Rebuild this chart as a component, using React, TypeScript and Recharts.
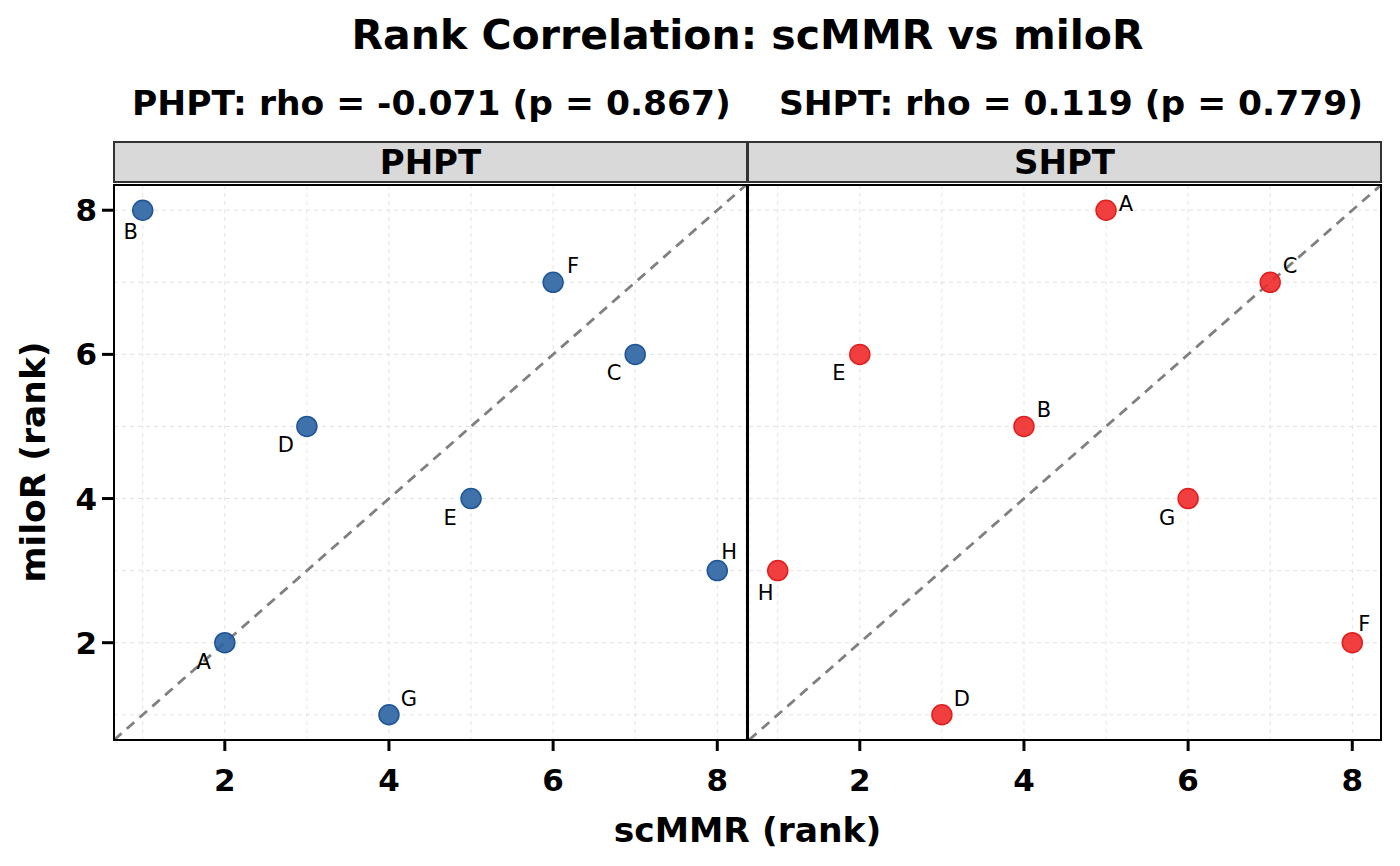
import { ScatterChart, Scatter, XAxis, YAxis, CartesianGrid, ReferenceLine } from 'recharts';

const pointLabels = ['A', 'B', 'C', 'D', 'E', 'F', 'G', 'H'];
const phptScMMR = [2, 1, 7, 3, 5, 6, 4, 8];
const phptMiloR = [2, 8, 6, 5, 4, 7, 1, 3];
const shptScMMR = [5, 4, 7, 3, 2, 8, 6, 1];
const shptMiloR = [8, 5, 7, 1, 6, 2, 4, 3];
// which side of the dot the repelled label sits on
const phptLabelSide = ['dl', 'd', 'dl', 'dl', 'dl', 'ur', 'ur', 'u'];
const shptLabelSide = ['r', 'ur', 'ur', 'ur', 'dl', 'u', 'dl', 'd'];

const gridTicks = [1, 2, 3, 4, 5, 6, 7, 8];
const majorTicks = [2, 4, 6, 8];
const axisDomain = [0.65, 8.35];

const FONT = '"DejaVu Sans", Verdana, sans-serif';

const sideOffset: Record<string, [number, number]> = {
  ur: [20, -16],
  dl: [-21, 19],
  d: [-12, 22],
  u: [12, -19],
  r: [20, -6],
};

function build(xs: number[], ys: number[], sides: string[]) {
  return pointLabels.map((label, i) => ({ label, x: xs[i], y: ys[i], side: sides[i] }));
}

const phptData = build(phptScMMR, phptMiloR, phptLabelSide);
const shptData = build(shptScMMR, shptMiloR, shptLabelSide);

function makeDot(fill: string, stroke: string) {
  return (props: any) => {
    const { cx, cy, payload } = props;
    const [dx, dy] = sideOffset[payload.side] || [20, -17];
    return (
      <g>
        <circle cx={cx} cy={cy} r={10} fill={fill} fillOpacity={0.9} stroke={stroke} strokeWidth={1.5} />
        <text x={cx + dx} y={cy + dy} textAnchor="middle" dominantBaseline="central"
          fontSize={21} fontFamily={FONT} fill="#000">{payload.label}</text>
      </g>
    );
  };
}

const XTick = (props: any) => {
  const { x, y, payload } = props;
  if (!majorTicks.includes(payload.value)) return null;
  return (
    <g>
      <line x1={x} x2={x} y1={y} y2={y + 11} stroke="#000" strokeWidth={3} />
      <text x={x} y={y + 40} textAnchor="middle" dominantBaseline="central"
        fontSize={31} fontWeight="bold" fontFamily={FONT} fill="#000">{payload.value}</text>
    </g>
  );
};

const YTick = (props: any) => {
  const { x, y, payload } = props;
  if (!majorTicks.includes(payload.value)) return null;
  return (
    <g>
      <line x1={x - 12} x2={x} y1={y} y2={y} stroke="#000" strokeWidth={3} />
      <text x={x - 17} y={y} textAnchor="end" dominantBaseline="central"
        fontSize={31} fontWeight="bold" fontFamily={FONT} fill="#000">{payload.value}</text>
    </g>
  );
};

function Panel({ data, fill, stroke, showY }: { data: any[]; fill: string; stroke: string; showY: boolean }) {
  const width = showY ? 760 : 660;
  return (
    <ScatterChart width={width} height={866}
      margin={{ top: 185, right: 14, bottom: 86, left: 14 }}>
      <CartesianGrid stroke="#e3e3e3" strokeDasharray="4 4" strokeWidth={1} />
      <XAxis type="number" dataKey="x" domain={axisDomain} ticks={gridTicks} allowDataOverflow
        axisLine={false} tickLine={false} tickSize={0} tickMargin={0} height={40} tick={<XTick />} interval={0} />
      <YAxis type="number" dataKey="y" domain={axisDomain} ticks={gridTicks} allowDataOverflow
        axisLine={false} tickLine={false} tickSize={0} tickMargin={0} width={100} hide={!showY}
        tick={<YTick />} interval={0} />
      <ReferenceLine segment={[{ x: axisDomain[0], y: axisDomain[0] }, { x: axisDomain[1], y: axisDomain[1] }]}
        stroke="#808080" strokeWidth={2.8} strokeDasharray="10 7" />
      <Scatter data={data} shape={makeDot(fill, stroke)} isAnimationActive={false} />
    </ScatterChart>
  );
}

const stripStyle = {
  position: 'absolute' as const,
  top: 141,
  height: 42,
  background: '#d9d9d9',
  border: '2px solid #333',
  boxSizing: 'border-box' as const,
  display: 'flex',
  alignItems: 'center',
  justifyContent: 'center',
  fontFamily: FONT,
  fontWeight: 'bold' as const,
  fontSize: 34,
  color: '#000',
};

const frameStyle = {
  position: 'absolute' as const,
  top: 184,
  height: 557,
  border: '2px solid #000',
  boxSizing: 'border-box' as const,
  pointerEvents: 'none' as const,
};

export default function App() {
  return (
    <div style={{ position: 'relative', width: 1400, height: 866, background: '#fff', fontFamily: FONT }}>
      <style>{'body{margin:0}'}</style>
      <div style={{ position: 'absolute', left: 0, top: 0 }}>
        <Panel data={phptData} fill="#2a62a2" stroke="#1f5596" showY />
      </div>
      <div style={{ position: 'absolute', left: 735, top: 0 }}>
        <Panel data={shptData} fill="#f02a2a" stroke="#e01f1f" showY={false} />
      </div>
      <div style={{ ...stripStyle, left: 113, width: 635 }}>PHPT</div>
      <div style={{ ...stripStyle, left: 747, width: 635 }}>SHPT</div>
      <div style={{ ...frameStyle, left: 113, width: 635 }} />
      <div style={{ ...frameStyle, left: 747, width: 635 }} />
      <div style={{ position: 'absolute', left: 114, width: 1267, top: 10, textAlign: 'center',
        fontSize: 41, fontWeight: 'bold', lineHeight: '50px' }}>
        Rank Correlation: scMMR vs miloR
      </div>
      <div style={{ position: 'absolute', left: 114, width: 1267, top: 81, textAlign: 'center',
        fontSize: 34.5, fontWeight: 'bold', lineHeight: '44px', whiteSpace: 'pre' }}>
        {'PHPT: rho = -0.071 (p = 0.867)    SHPT: rho = 0.119 (p = 0.779)'}
      </div>
      <div style={{ position: 'absolute', left: 114, width: 1267, top: 808, textAlign: 'center',
        fontSize: 34.5, fontWeight: 'bold', lineHeight: '44px' }}>
        scMMR (rank)
      </div>
      <div style={{ position: 'absolute', left: 33, top: 462, width: 0, height: 0 }}>
        <div style={{ position: 'absolute', left: -200, top: -22, width: 400, textAlign: 'center',
          fontSize: 34.5, fontWeight: 'bold', lineHeight: '44px', transform: 'rotate(-90deg)' }}>
          miloR (rank)
        </div>
      </div>
    </div>
  );
}
